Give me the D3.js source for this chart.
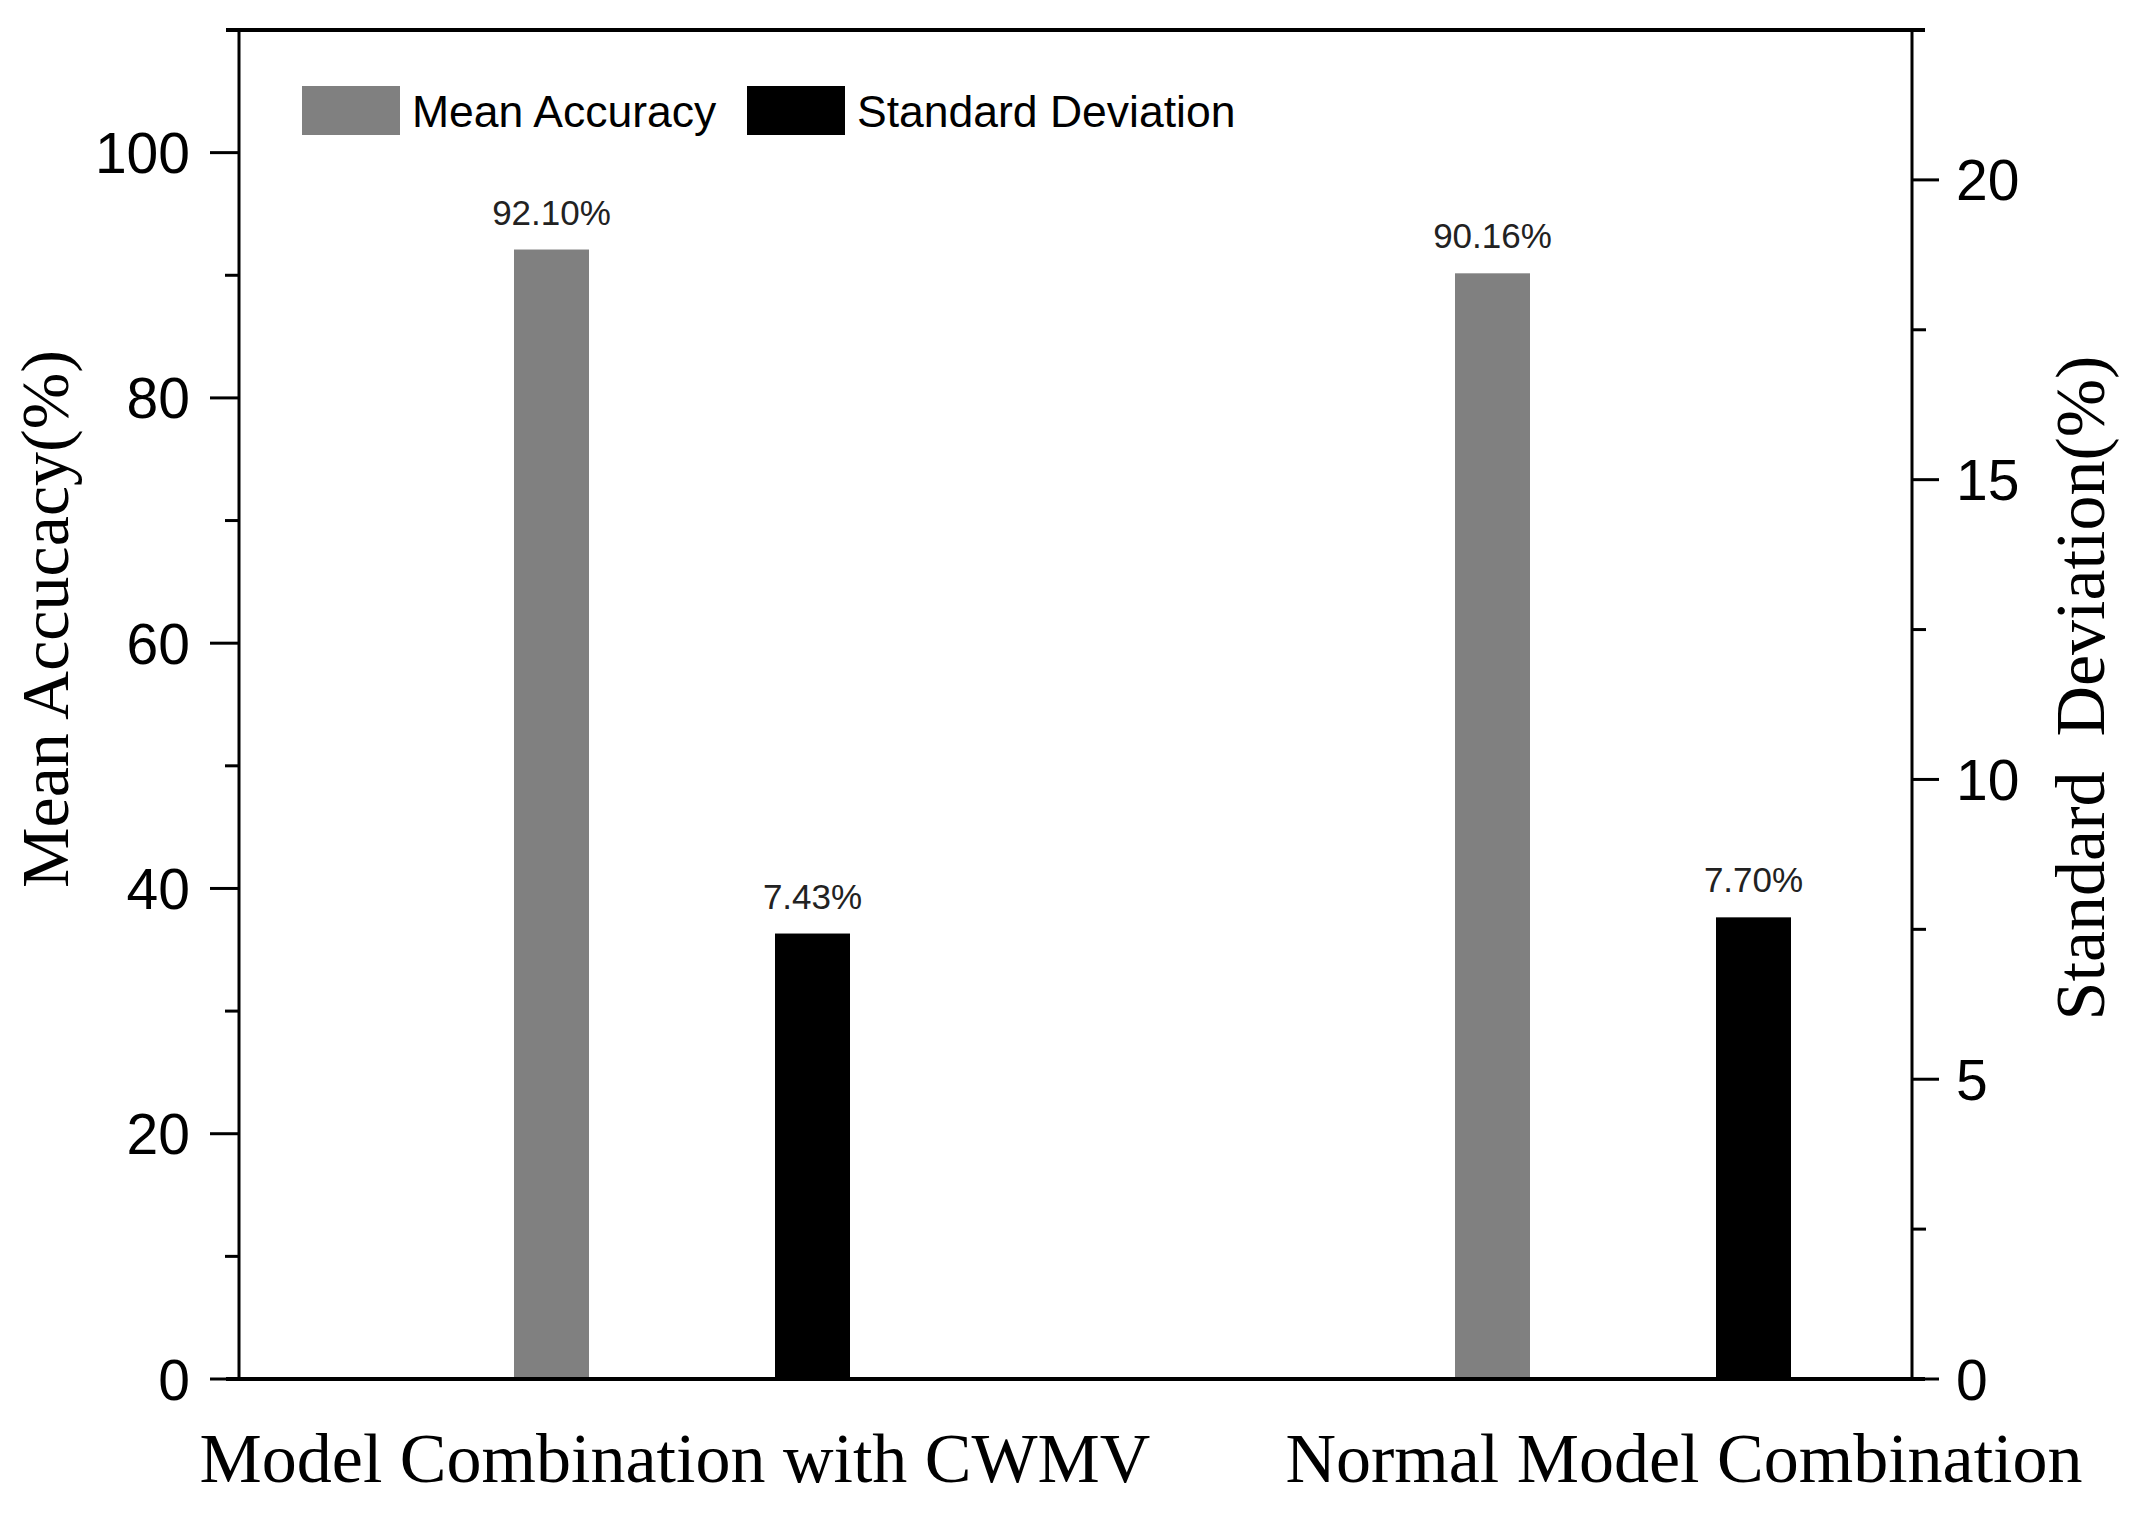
<!DOCTYPE html>
<html lang="en">
  <head>
    <meta charset="UTF-8" />
    <title>Mean Accuracy vs Standard Deviation</title>
    <script src="https://cdnjs.cloudflare.com/ajax/libs/d3/7.8.5/d3.min.js"></script>
    <style>
      body {
        margin: 0;
        background: #fff;
      }
      .tick-label {
        font-family: "Liberation Sans", Arial, sans-serif;
        font-size: 57px;
        fill: #000;
      }
      .legend-label {
        font-family: "Liberation Sans", Arial, sans-serif;
        font-size: 44.5px;
        fill: #000;
      }
      .value-label {
        font-family: "Liberation Sans", Arial, sans-serif;
        font-size: 35px;
        fill: #222;
      }
      .title {
        font-family: "Liberation Serif", "Times New Roman", serif;
        fill: #000;
        white-space: pre;
      }
    </style>
  </head>
  <body>
    <div id="chart"></div>
    <script>
      // data
      const categories = ["Model Combination with CWMV", "Normal Model Combination"];
      const series = ["Mean Accuracy", "Standard Deviation"];
      const meanAccuracy = [92.1, 90.16];
      const stdDeviation = [7.43, 7.7];
      const valueLabels = [["92.10%", "7.43%"], ["90.16%", "7.70%"]];
      const leftTicks = [0, 20, 40, 60, 80, 100];
      const rightTicks = [0, 5, 10, 15, 20];

      const W = 2132, H = 1516;
      const x0 = 239, x1 = 1912, y0 = 30, y1 = 1379;

      const svg = d3
        .select("#chart")
        .append("svg")
        .attr("width", W)
        .attr("height", H);

      // scales
      const yLeft = d3.scaleLinear().domain([0, 110]).range([y1, y0]);
      const yRight = d3.scaleLinear().domain([0, 22.5]).range([y1, y0]);
      const xGroup = d3.scaleBand().domain(categories).range([211.5, 2093.5]);
      const xInner = d3.scaleBand().domain(series).range([-261, 261]);
      const xLabel = d3.scalePoint().domain(categories).range([675, 1684]);
      const colors = d3.scaleOrdinal().domain(series).range(["#808080", "#000000"]);
      const barW = 75;

      const rows = categories.map((c, i) => ({
        cat: c,
        vals: [
          { s: series[0], v: meanAccuracy[i], y: yLeft, label: valueLabels[i][0] },
          { s: series[1], v: stdDeviation[i], y: yRight, label: valueLabels[i][1] },
        ],
      }));

      // bars
      const groups = svg
        .selectAll(".group")
        .data(rows)
        .enter()
        .append("g")
        .attr("class", "group")
        .attr("transform", (d) => `translate(${xGroup(d.cat) + xGroup.bandwidth() / 2},0)`);

      groups
        .selectAll("rect")
        .data((d) => d.vals)
        .enter()
        .append("rect")
        .attr("x", (d) => xInner(d.s) + xInner.bandwidth() / 2 - barW / 2)
        .attr("y", (d) => d.y(d.v))
        .attr("width", barW)
        .attr("height", (d) => y1 - d.y(d.v))
        .attr("fill", (d) => colors(d.s));

      groups
        .selectAll(".value-label")
        .data((d) => d.vals)
        .enter()
        .append("text")
        .attr("class", "value-label")
        .attr("x", (d) => xInner(d.s) + xInner.bandwidth() / 2)
        .attr("y", (d) => d.y(d.v) - 25)
        .attr("text-anchor", "middle")
        .text((d) => d.label);

      // frame lines
      const frame = svg.append("g").attr("stroke", "#000");
      frame.append("line").attr("x1", x0 - 13).attr("x2", x1 + 13).attr("y1", y0).attr("y2", y0).attr("stroke-width", 4);
      frame.append("line").attr("x1", x0 - 13).attr("x2", x1 + 13).attr("y1", y1).attr("y2", y1).attr("stroke-width", 4);

      // left axis
      const leftAxis = svg.append("g").attr("transform", `translate(${x0},0)`);
      leftAxis.append("line").attr("y1", y0).attr("y2", y1).attr("stroke", "#000").attr("stroke-width", 3);
      leftAxis
        .selectAll(".minor")
        .data(d3.range(10, 110, 20))
        .enter()
        .append("line")
        .attr("x1", -14)
        .attr("x2", 0)
        .attr("y1", (d) => yLeft(d))
        .attr("y2", (d) => yLeft(d))
        .attr("stroke", "#000")
        .attr("stroke-width", 3);
      leftAxis
        .selectAll(".major")
        .data(leftTicks)
        .enter()
        .append("line")
        .attr("x1", -29)
        .attr("x2", 0)
        .attr("y1", (d) => yLeft(d))
        .attr("y2", (d) => yLeft(d))
        .attr("stroke", "#000")
        .attr("stroke-width", 3);
      leftAxis
        .selectAll(".tick-label")
        .data(leftTicks)
        .enter()
        .append("text")
        .attr("class", "tick-label")
        .attr("x", -49)
        .attr("y", (d) => yLeft(d))
        .attr("dy", "0.36em")
        .attr("text-anchor", "end")
        .text((d) => d);

      // right axis
      const rightAxis = svg.append("g").attr("transform", `translate(${x1},0)`);
      rightAxis.append("line").attr("y1", y0).attr("y2", y1).attr("stroke", "#000").attr("stroke-width", 3);
      rightAxis
        .selectAll(".minor")
        .data(d3.range(2.5, 22.5, 5))
        .enter()
        .append("line")
        .attr("x1", 0)
        .attr("x2", 14)
        .attr("y1", (d) => yRight(d))
        .attr("y2", (d) => yRight(d))
        .attr("stroke", "#000")
        .attr("stroke-width", 3);
      rightAxis
        .selectAll(".major")
        .data(rightTicks)
        .enter()
        .append("line")
        .attr("x1", 0)
        .attr("x2", 27)
        .attr("y1", (d) => yRight(d))
        .attr("y2", (d) => yRight(d))
        .attr("stroke", "#000")
        .attr("stroke-width", 3);
      rightAxis
        .selectAll(".tick-label")
        .data(rightTicks)
        .enter()
        .append("text")
        .attr("class", "tick-label")
        .attr("x", 44)
        .attr("y", (d) => yRight(d))
        .attr("dy", "0.36em")
        .attr("text-anchor", "start")
        .text((d) => d);

      // category labels
      svg
        .selectAll(".cat-label")
        .data(categories)
        .enter()
        .append("text")
        .attr("class", "title")
        .attr("x", (d) => xLabel(d))
        .attr("y", 1482)
        .attr("text-anchor", "middle")
        .style("font-size", "70px")
        .text((d) => d);

      // axis titles
      svg
        .append("text")
        .attr("class", "title")
        .attr("transform", "translate(68,619) rotate(-90)")
        .attr("text-anchor", "middle")
        .style("font-size", "68px")
        .text("Mean Accucacy(%)");

      svg
        .append("text")
        .attr("class", "title")
        .attr("transform", "translate(2104,688) rotate(-90)")
        .attr("text-anchor", "middle")
        .style("font-size", "70px")
        .text("Standard  Deviation(%)");

      // legend
      const legend = svg
        .selectAll(".legend")
        .data(series)
        .enter()
        .append("g")
        .attr("class", "legend")
        .attr("transform", (d, i) => `translate(${302 + i * 445},86)`);

      legend
        .append("rect")
        .attr("width", 98)
        .attr("height", 49)
        .attr("fill", (d) => colors(d));

      legend
        .append("text")
        .attr("class", "legend-label")
        .attr("x", 110)
        .attr("y", 41)
        .text((d) => d);
    </script>
  </body>
</html>
